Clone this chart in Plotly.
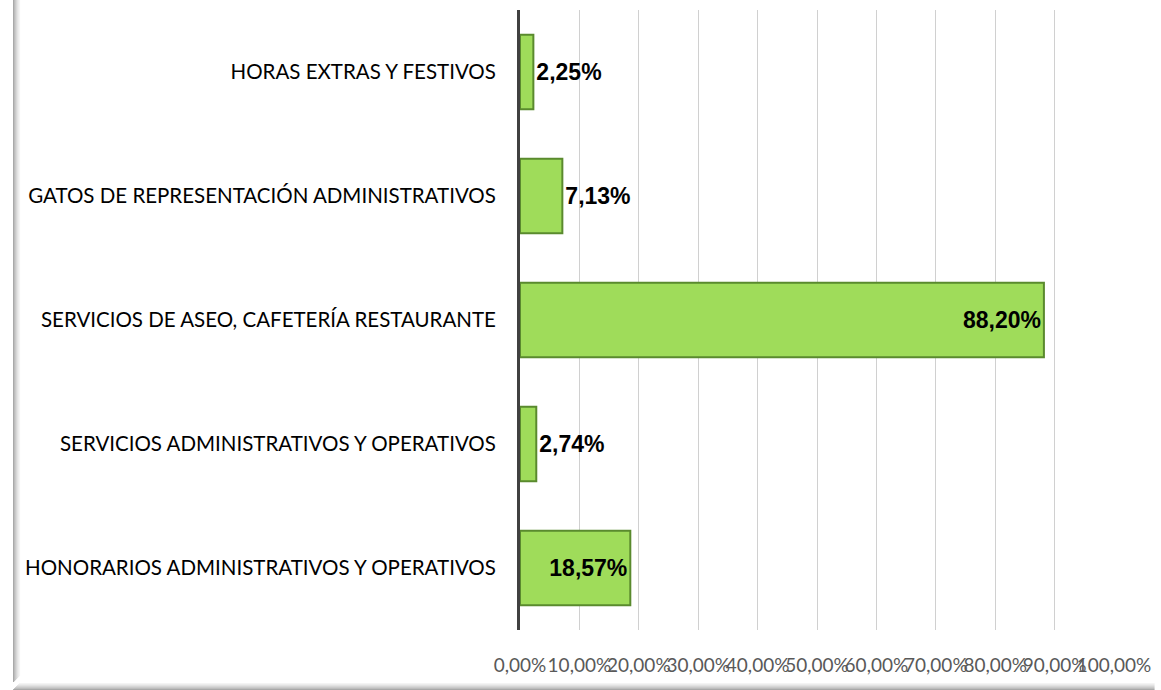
import plotly.graph_objects as go

categories = [
    "HONORARIOS ADMINISTRATIVOS Y OPERATIVOS",
    "SERVICIOS ADMINISTRATIVOS Y OPERATIVOS",
    "SERVICIOS DE ASEO, CAFETERÍA RESTAURANTE",
    "GATOS DE REPRESENTACIÓN ADMINISTRATIVOS",
    "HORAS EXTRAS Y FESTIVOS",
]
values = [18.57, 2.74, 88.20, 7.13, 2.25]
labels = ["18,57%", "2,74%", "88,20%", "7,13%", "2,25%"]
text_positions = ["inside", "outside", "inside", "outside", "outside"]
tick_vals = [0, 10, 20, 30, 40, 50, 60, 70, 80, 90, 100]
tick_text = ["0,00%", "10,00%", "20,00%", "30,00%", "40,00%", "50,00%",
             "60,00%", "70,00%", "80,00%", "90,00%", "100,00%"]

W, H = 1161, 690
ML, MR, MT, MB = 520, 41, 10, 60

fig = go.Figure()
bold = dict(family="Liberation Sans", size=23, color="black", weight="bold")
fig.add_trace(go.Bar(
    y=categories, x=values, orientation="h",
    width=0.6,
    marker=dict(color="#9fdc5a", line=dict(color="#5a8a2e", width=2)),
    text=labels, textposition=text_positions, insidetextanchor="end",
    constraintext="none", cliponaxis=False,
    textfont=bold, outsidetextfont=bold, insidetextfont=bold,
    hoverinfo="skip",
))

def px_x(p):
    return (p - ML) / (W - ML - MR)

def px_y(p):
    return (H - MB - p) / (H - MT - MB)

shapes = []
grays = ["#a8a8a8", "#bcbcbc", "#cacaca", "#d6d6d6", "#e2e2e2", "#ececec", "#f4f4f4"]
for i, g in enumerate(grays):
    shapes.append(dict(type="line", xref="paper", yref="paper",
                       x0=px_x(8.5 + i), x1=px_x(8.5 + i), y0=px_y(0), y1=px_y(682 - i),
                       line=dict(color=g, width=1.2), layer="below"))
    shapes.append(dict(type="line", xref="paper", yref="paper",
                       x0=px_x(8 + i), x1=px_x(W), y0=px_y(689.5 - i), y1=px_y(689.5 - i),
                       line=dict(color=g, width=1.2), layer="below"))

fig.update_layout(
    width=W, height=H,
    margin=dict(l=ML, r=MR, t=MT, b=MB, pad=0),
    paper_bgcolor="white", plot_bgcolor="white",
    showlegend=False,
    shapes=shapes,
    font=dict(family="Lato", size=19, color="black"),
    xaxis=dict(
        range=[0, 100], tickvals=tick_vals, ticktext=tick_text,
        tickangle=0, showgrid=True, gridcolor="#d0d0d0", gridwidth=1,
        zeroline=False, showline=False, ticks="",
        tickfont=dict(family="Lato", size=19, color="#595959"),
        ticklabelstandoff=22, fixedrange=True,
    ),
    yaxis=dict(
        range=[-0.5, 4.5], showgrid=False, zeroline=False,
        showline=True, linecolor="#404040", linewidth=3,
        ticks="", ticklabelstandoff=17,
        tickfont=dict(family="Lato", size=20.5, color="black"),
        fixedrange=True,
    ),
)

fig.write_html("out.html", config={"displayModeBar": False},
               post_script="document.body.style.margin='0';document.body.style.overflow='hidden';")
